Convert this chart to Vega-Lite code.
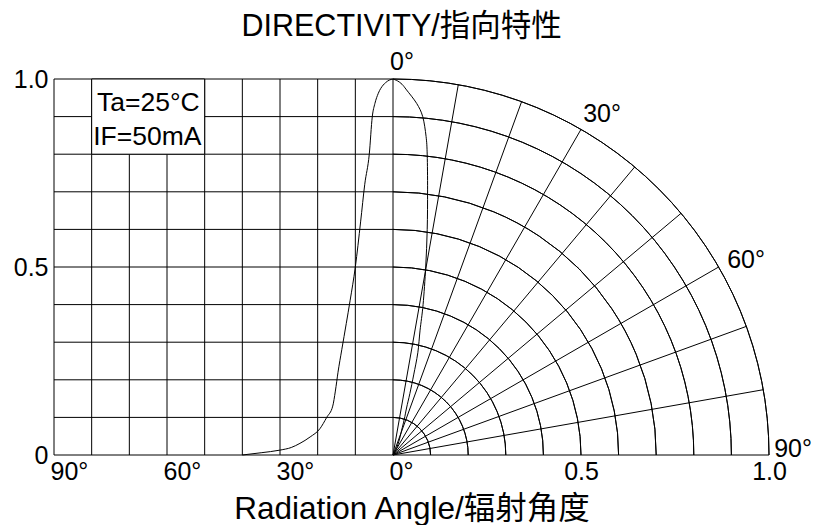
{
  "$schema": "https://vega.github.io/schema/vega-lite/v6.json",
  "padding": {"left": 13, "top": 11, "right": 0, "bottom": 0},
  "background": "white",
  "spacing": 0,
  "bounds": "flush",
  "config": {
    "view": {"stroke": null},
    "font": "Liberation Sans, Noto Sans CJK SC",
    "axis": {
      "domain": false, "ticks": false, "grid": false,
      "labelFont": "Liberation Sans, Noto Sans CJK SC", "labelFontSize": 25, "labelColor": "#000",
      "titleFont": "Liberation Sans, Noto Sans CJK SC", "titleFontSize": 31.5, "titleFontWeight": "normal", "titleColor": "#000"
    },
    "text": {"font": "Liberation Sans, Noto Sans CJK SC", "fontSize": 25, "color": "#000"}
  },
  "title": {
    "text": "DIRECTIVITY/指向特性",
    "font": "Liberation Sans, Noto Sans CJK SC",
    "fontSize": 30.5, "fontWeight": "normal", "color": "#000",
    "anchor": "middle", "dx": -11, "offset": 8
  },
  "datasets": {
    "hgrid": [{"v":0},{"v":0.1},{"v":0.2},{"v":0.3},{"v":0.4},{"v":0.5},{"v":0.6},{"v":0.7},{"v":0.8},{"v":0.9},{"v":1.0}],
    "vgrid": [{"ang":90},{"ang":80},{"ang":70},{"ang":60},{"ang":50},{"ang":40},{"ang":30},{"ang":20},{"ang":10}],
    "box": [{"a1":80,"a2":50,"i1":0.8,"i2":1.0}],
    "notes": [
      {"label":"Ta=25°C","ang":78.6,"int":0.936},
      {"label":"IF=50mA","ang":79.6,"int":0.846}
    ],
    "leftcurve": [
      {"ang":0,"int":1.0},{"ang":1,"int":0.997},{"ang":2,"int":0.99},{"ang":2.6,"int":0.984},
      {"ang":3.9,"int":0.962},{"ang":4.8,"int":0.935},{"ang":5.5,"int":0.9},{"ang":6.3,"int":0.8},
      {"ang":7.5,"int":0.72},{"ang":8.6,"int":0.62},{"ang":10,"int":0.5},{"ang":11.4,"int":0.41},
      {"ang":12.4,"int":0.35},{"ang":13.6,"int":0.28},{"ang":14.6,"int":0.22},{"ang":15.3,"int":0.17},
      {"ang":16,"int":0.13},{"ang":17.6,"int":0.1},{"ang":19.4,"int":0.07},{"ang":22,"int":0.048},
      {"ang":24.7,"int":0.031},{"ang":27,"int":0.02},{"ang":30,"int":0.013},{"ang":35,"int":0.006},
      {"ang":40,"int":0.0}
    ],
    "radial": [
      {"a":0,"px":0,"py":0},{"a":0,"px":0,"py":1},
      {"a":10,"px":0,"py":0},{"a":10,"px":0.173648,"py":0.984808},
      {"a":20,"px":0,"py":0},{"a":20,"px":0.342020,"py":0.939693},
      {"a":30,"px":0,"py":0},{"a":30,"px":0.5,"py":0.866025},
      {"a":40,"px":0,"py":0},{"a":40,"px":0.642788,"py":0.766044},
      {"a":50,"px":0,"py":0},{"a":50,"px":0.766044,"py":0.642788},
      {"a":60,"px":0,"py":0},{"a":60,"px":0.866025,"py":0.5},
      {"a":70,"px":0,"py":0},{"a":70,"px":0.939693,"py":0.342020},
      {"a":80,"px":0,"py":0},{"a":80,"px":0.984808,"py":0.173648},
      {"a":90,"px":0,"py":0},{"a":90,"px":1,"py":0}
    ],
    "arcs": [
      {"r":0.1,"t0":0,"t1":90,"cx":0,"cy":0},{"r":0.2,"t0":0,"t1":90,"cx":0,"cy":0},
      {"r":0.3,"t0":0,"t1":90,"cx":0,"cy":0},{"r":0.4,"t0":0,"t1":90,"cx":0,"cy":0},
      {"r":0.5,"t0":0,"t1":90,"cx":0,"cy":0},{"r":0.6,"t0":0,"t1":90,"cx":0,"cy":0},
      {"r":0.7,"t0":0,"t1":90,"cx":0,"cy":0},{"r":0.8,"t0":0,"t1":90,"cx":0,"cy":0},
      {"r":0.9,"t0":0,"t1":90,"cx":0,"cy":0},{"r":1.0,"t0":0,"t1":90,"cx":0,"cy":0}
    ],
    "anglelabels": [
      {"label":"0°","lx":0.024,"ly":1.045},
      {"label":"30°","lx":0.556,"ly":0.907},
      {"label":"60°","lx":0.939,"ly":0.519},
      {"label":"90°","lx":1.064,"ly":0.016}
    ],
    "rightcurve": [
      {"k":0,"rx":0,"ry":1.0},{"k":1,"rx":0.012,"ry":0.995},{"k":2,"rx":0.024,"ry":0.986},
      {"k":3,"rx":0.036,"ry":0.971},{"k":4,"rx":0.063,"ry":0.935},{"k":5,"rx":0.079,"ry":0.9},
      {"k":6,"rx":0.088,"ry":0.847},{"k":7,"rx":0.091,"ry":0.798},{"k":8,"rx":0.092,"ry":0.705},
      {"k":9,"rx":0.091,"ry":0.6},{"k":10,"rx":0.087,"ry":0.5},{"k":11,"rx":0.08,"ry":0.4},
      {"k":12,"rx":0.072,"ry":0.332},{"k":13,"rx":0.066,"ry":0.272},{"k":14,"rx":0.055,"ry":0.213},
      {"k":15,"rx":0.045,"ry":0.164},{"k":16,"rx":0.036,"ry":0.125},{"k":17,"rx":0.03,"ry":0.095},
      {"k":18,"rx":0.023,"ry":0.066},{"k":19,"rx":0.018,"ry":0.045},{"k":20,"rx":0.013,"ry":0.028},
      {"k":21,"rx":0.0065,"ry":0.011},{"k":22,"rx":0,"ry":0}
    ]
  },
  "hconcat": [
    {
      "width": 339,
      "height": 376,
      "layer": [
        {
          "data": {"name": "hgrid"},
          "mark": {"type": "rule", "color": "#000", "strokeWidth": 1},
          "encoding": {
            "y": {"field": "v", "type": "quantitative", "scale": {"domain": [0, 1], "nice": false, "zero": false},
                  "axis": {"values": [0, 0.5, 1.0], "labelExpr": "datum.value == 0 ? '0' : format(datum.value, '.1f')", "labelPadding": 6, "title": null}}
          }
        },
        {
          "data": {"name": "vgrid"},
          "mark": {"type": "rule", "color": "#000", "strokeWidth": 1},
          "encoding": {
            "x": {"field": "ang", "type": "quantitative", "scale": {"domain": [90, 0], "nice": false, "zero": false},
                  "axis": {"values": [90, 60, 30, 0], "labelExpr": "datum.value + '°'", "labelPadding": 4, "labelFlush": false, "labelAlign": "left", "labelOffset": -4, "title": "Radiation Angle/辐射角度", "titlePadding": 9, "titleX": 357.5, "titleAlign": "center"}}
          }
        },
        {
          "data": {"name": "box"},
          "mark": {"type": "rect", "fill": "#fff", "stroke": "#000", "strokeWidth": 1},
          "encoding": {
            "x": {"field": "a1", "type": "quantitative", "scale": {"domain": [90, 0], "nice": false, "zero": false}},
            "x2": {"field": "a2"},
            "y": {"field": "i1", "type": "quantitative", "scale": {"domain": [0, 1], "nice": false, "zero": false}},
            "y2": {"field": "i2"}
          }
        },
        {
          "data": {"name": "notes"},
          "mark": {"type": "text", "align": "left", "baseline": "middle", "fontSize": 26.5},
          "encoding": {
            "x": {"field": "ang", "type": "quantitative", "scale": {"domain": [90, 0], "nice": false, "zero": false}},
            "y": {"field": "int", "type": "quantitative", "scale": {"domain": [0, 1], "nice": false, "zero": false}},
            "text": {"field": "label", "type": "nominal"}
          }
        },
        {
          "data": {"name": "leftcurve"},
          "mark": {"type": "line", "color": "#000", "strokeWidth": 1, "interpolate": "monotone"},
          "encoding": {
            "x": {"field": "ang", "type": "quantitative", "scale": {"domain": [90, 0], "nice": false, "zero": false}},
            "y": {"field": "int", "type": "quantitative", "scale": {"domain": [0, 1], "nice": false, "zero": false}}
          }
        }
      ]
    },
    {
      "width": 376,
      "height": 376,
      "layer": [
        {
          "data": {"name": "radial"},
          "mark": {"type": "line", "color": "#000", "strokeWidth": 1},
          "encoding": {
            "x": {"field": "px", "type": "quantitative", "scale": {"domain": [0, 1], "nice": false, "zero": false},
                  "axis": {"values": [0.5, 1.0], "labelExpr": "format(datum.value, '.1f')", "labelPadding": 4, "labelFlush": false, "title": null}},
            "y": {"field": "py", "type": "quantitative", "scale": {"domain": [0, 1], "nice": false, "zero": false}, "axis": null},
            "detail": {"field": "a", "type": "nominal"}
          }
        },
        {
          "data": {"name": "arcs"},
          "mark": {"type": "arc", "filled": false, "color": "#000", "strokeWidth": 1},
          "encoding": {
            "x": {"field": "cx", "type": "quantitative", "stack": null, "scale": {"domain": [0, 1], "nice": false, "zero": false}},
            "y": {"field": "cy", "type": "quantitative", "stack": null, "scale": {"domain": [0, 1], "nice": false, "zero": false}, "axis": null},
            "theta": {"field": "t0", "type": "quantitative", "stack": null, "scale": {"domain": [0, 360], "range": [0, 6.283185307179586], "zero": true, "nice": false}},
            "theta2": {"field": "t1"},
            "radius": {"field": "r", "type": "quantitative", "stack": null, "scale": {"type": "linear", "domain": [0, 1], "range": [0, 376], "zero": true, "nice": false}},
            "radius2": {"field": "r"}
          }
        },
        {
          "data": {"name": "rightcurve"},
          "mark": {"type": "line", "color": "#000", "strokeWidth": 1, "interpolate": "cardinal"},
          "encoding": {
            "x": {"field": "rx", "type": "quantitative", "scale": {"domain": [0, 1], "nice": false, "zero": false}},
            "y": {"field": "ry", "type": "quantitative", "scale": {"domain": [0, 1], "nice": false, "zero": false}, "axis": null},
            "order": {"field": "k", "type": "quantitative"}
          }
        },
        {
          "data": {"name": "anglelabels"},
          "mark": {"type": "text", "align": "center", "baseline": "middle", "fontSize": 25},
          "encoding": {
            "x": {"field": "lx", "type": "quantitative", "scale": {"domain": [0, 1], "nice": false, "zero": false}},
            "y": {"field": "ly", "type": "quantitative", "scale": {"domain": [0, 1], "nice": false, "zero": false}, "axis": null},
            "text": {"field": "label", "type": "nominal"}
          }
        }
      ]
    }
  ]
}
